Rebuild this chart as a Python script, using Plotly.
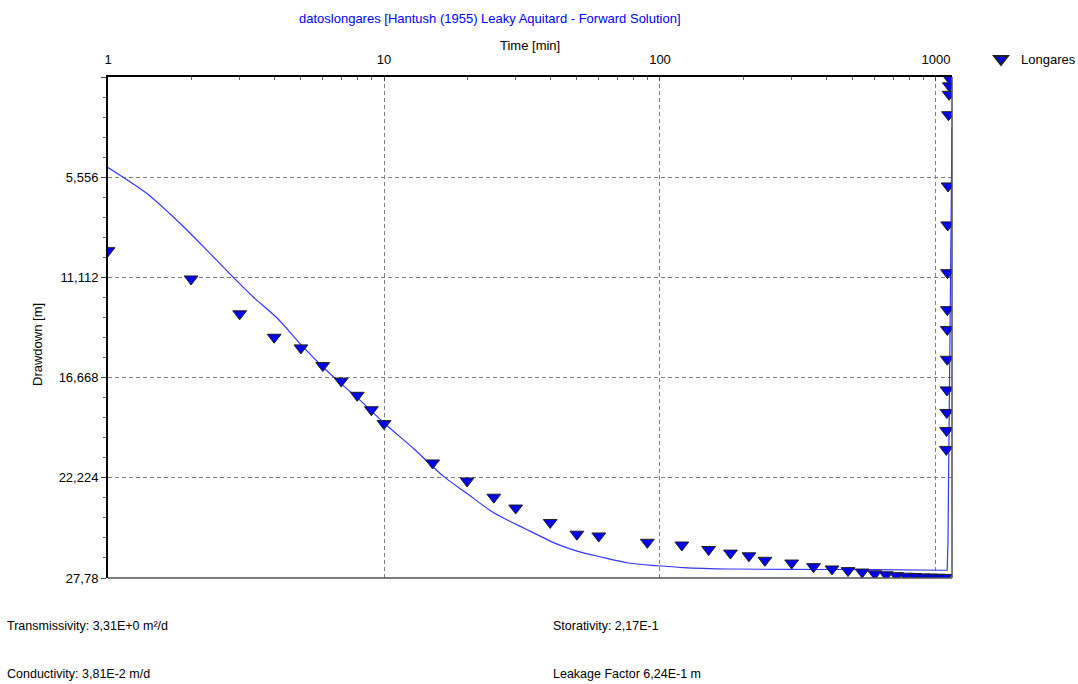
import plotly.graph_objects as go

# ---------------- data ----------------
obs_time = [1, 2, 3, 4, 5, 6, 7, 8, 9, 10, 15, 20, 25, 30, 40, 50, 60, 90, 120, 150,
            180, 210, 240, 300, 360, 420, 480, 540, 600, 660, 720, 780, 840, 900, 960,
            1020, 1080,
            1090, 1092, 1094, 1096, 1098, 1099, 1100, 1101, 1103, 1106, 1110, 1115, 1118, 1122]
obs_drawdown = [9.63, 11.2, 13.13, 14.43, 15.02, 16.0, 16.86, 17.65, 18.45, 19.22, 21.4, 22.4,
                23.3, 23.9, 24.7, 25.35, 25.45, 25.8, 25.95, 26.2, 26.4, 26.55, 26.8, 26.95,
                27.15, 27.28, 27.37, 27.45, 27.55, 27.6, 27.65, 27.68, 27.7, 27.72, 27.73,
                27.74, 27.75,
                20.65, 19.6, 18.6, 17.35, 15.65, 14.0, 12.9, 10.85, 8.2, 6.04, 2.09, 0.96, 0.49, 0.1]

# model curve, pumping period
model_time = [1, 1.38, 1.68, 1.98, 2.28, 2.84, 3.36, 4.09, 5.1, 6.1, 7.1, 8.2, 10.2, 12.8,
              15, 16.6, 20, 24.9, 32.6, 42.4, 50.4, 60.6, 77, 98, 121, 178, 300, 600, 1080]
model_drawdown = [5.02, 6.45, 7.6, 8.65, 9.6, 11.1, 12.2, 13.35, 14.98, 16.18, 17.1, 17.93,
                  19.3, 20.6, 21.6, 22.2, 23.1, 24.15, 25.06, 25.9, 26.3, 26.6, 26.95, 27.1,
                  27.2, 27.28, 27.3, 27.32, 27.35]
# model curve, recovery period
recovery_time = [1080, 1098, 1105, 1115, 1125, 1135, 1143]
recovery_drawdown = [27.35, 27.35, 25.8, 20.0, 14.0, 7.0, 2.8]

y_tick_vals = [0, 5.556, 11.112, 16.668, 22.224, 27.78]
y_tick_text = ["", "5,556", "11,112", "16,668", "22,224", "27,78"]
x_tick_vals = [1, 10, 100, 1000]
x_tick_text = ["1", "10", "100", "1000"]

title_text = "datoslongares [Hantush (1955) Leaky Aquitard - Forward Solution]"
series_name = "Longares"
info_left = ["Transmissivity: 3,31E+0 m²/d", "Conductivity: 3,81E-2 m/d"]
info_right = ["Storativity: 2,17E-1", "Leakage Factor 6,24E-1 m"]

# ---------------- layout geometry (pixels) ----------------
W, H = 1078, 684
L, R, T, B = 108, 952, 77, 578
pw, ph = R - L, B - T

def px(x):
    return (x - L) / pw

def py(y):
    return (B - y) / ph

FONT = "Liberation Sans, Arial, sans-serif"
FS = 13
LINE_COLOR = "#3535ff"

fig = go.Figure()

fig.add_trace(go.Scatter(
    x=model_time, y=model_drawdown, mode="lines",
    line=dict(color=LINE_COLOR, width=1.2, shape="spline", smoothing=0.8),
    showlegend=False, hoverinfo="skip"))
fig.add_trace(go.Scatter(
    x=recovery_time, y=recovery_drawdown, mode="lines",
    line=dict(color=LINE_COLOR, width=1.2),
    showlegend=False, hoverinfo="skip"))

fig.add_trace(go.Scatter(
    x=obs_time, y=obs_drawdown, mode="markers", name=series_name,
    marker=dict(symbol="triangle-down", size=12, color="#0000ee",
                line=dict(color="#202020", width=1))))

minor_x = [m * d for d in (1, 10, 100) for m in range(2, 10)]
minor_y = [k * 1.1112 for k in range(1, 26) if k % 5 != 0]

fig.update_layout(
    width=W, height=H,
    margin=dict(l=L, r=W - R, t=T, b=H - B, pad=0, autoexpand=False),
    paper_bgcolor="white", plot_bgcolor="white",
    font=dict(family=FONT, size=FS, color="black"),
    showlegend=True,
    legend=dict(x=px(981), y=py(44), xanchor="left", yanchor="top",
                bgcolor="rgba(0,0,0,0)", font=dict(size=FS, family=FONT),
                itemsizing="constant", tracegroupgap=0),
    xaxis=dict(
        type="log", side="top", range=[0, 3.058],
        tickvals=x_tick_vals, ticktext=x_tick_text,
        ticks="inside", ticklen=4, tickcolor="#404040",
        ticklabelstandoff=6,
        showline=True, linecolor="black", linewidth=2,
        showgrid=True, gridcolor="#808080", griddash="4px,3px", gridwidth=1,
        zeroline=False, tickfont=dict(size=FS, color="black"),
        minor=dict(tickvals=minor_x, ticks="inside", ticklen=3, tickcolor="#606060",
                   showgrid=False),
    ),
    yaxis=dict(
        range=[27.78, 0], autorange=False,
        tickvals=y_tick_vals, ticktext=y_tick_text,
        ticks="outside", ticklen=5, tickcolor="#404040",
        showline=True, linecolor="black", linewidth=2,
        showgrid=True, gridcolor="#808080", griddash="4px,3px", gridwidth=1,
        zeroline=False, tickfont=dict(size=FS, color="black"),
        minor=dict(tickvals=minor_y, ticks="outside", ticklen=3, tickcolor="#606060",
                   showgrid=False),
    ),
)

# right and bottom border
fig.add_shape(type="line", xref="paper", yref="paper", x0=1, x1=1, y0=0, y1=1,
              line=dict(color="#505050", width=1.5))
fig.add_shape(type="line", xref="paper", yref="paper", x0=0, x1=1, y0=0, y1=0,
              line=dict(color="#505050", width=1.5))

ann = []
ann.append(dict(text=title_text, x=px(490), y=py(18), xref="paper", yref="paper",
                showarrow=False, xanchor="center", yanchor="middle",
                font=dict(size=FS, color="#0000ff", family=FONT)))
ann.append(dict(text="Time [min]", x=px(530), y=py(45), xref="paper", yref="paper",
                showarrow=False, xanchor="center", yanchor="middle",
                font=dict(size=FS, color="black", family=FONT)))
ann.append(dict(text="Drawdown [m]", x=px(38), y=py(345), xref="paper", yref="paper",
                showarrow=False, xanchor="center", yanchor="middle", textangle=-90,
                font=dict(size=FS, color="black", family=FONT)))
for i, (tl, tr) in enumerate(zip(info_left, info_right)):
    yy = 626 + 48 * i
    ann.append(dict(text=tl, x=px(5), y=py(yy), xref="paper", yref="paper",
                    showarrow=False, xanchor="left", yanchor="middle",
                    font=dict(size=12.5, color="black", family=FONT)))
    ann.append(dict(text=tr, x=px(551), y=py(yy), xref="paper", yref="paper",
                    showarrow=False, xanchor="left", yanchor="middle",
                    font=dict(size=12.5, color="black", family=FONT)))
fig.update_layout(annotations=ann)

fig.write_html("out.html")
